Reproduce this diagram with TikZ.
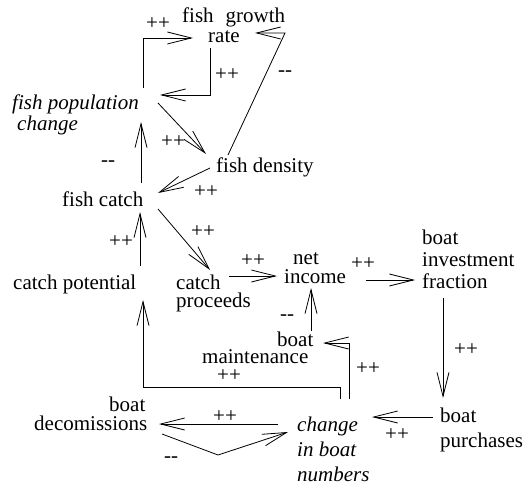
\documentclass[tikz,border=0pt]{standalone}
\usepackage{fontspec}
\setmainfont{Liberation Serif}
\usetikzlibrary{arrows.meta,calc}
\newcommand\mlines[2]{\begin{tabular}[t]{@{}#1@{}}#2\end{tabular}}
\newcommand\dashpair{-\kern0pt-}
\begin{document}
\begin{tikzpicture}[x=1pt,y=-1pt,
  txt/.style={anchor=base west,inner sep=0pt,font=\fontsize{21}{21}\selectfont},
  lbl/.style={anchor=base,inner sep=0pt,font=\fontsize{21}{21}\selectfont},
  conn/.style={line width=0.8pt,-{Straight Barb[length=24pt,width=12pt]}}]
\useasboundingbox (0,0) rectangle (526,486);
% nodes
\node[txt] (fgr) at (182,23) {\mlines{l}{fish\hspace{12pt}growth\\[-1pt]\hspace*{26pt}rate}};
\node[txt] (fpc) at (12,110) {\itshape\mlines{l}{fish population\\\hspace*{5pt}change}};
\node[txt] (fd) at (216,172) {fish density};
\node[txt] (fc) at (62,206) {fish catch};
\node[txt] (cp) at (13,289) {catch potential};
\node[txt] (cpr) at (176,289) {\mlines{l}{catch\\[-3pt]proceeds}};
\node[txt] (ni) at (284,264) {\mlines{l}{\hspace*{9pt}net\\[-2pt]income}};
\node[txt] (bif) at (422,244) {\mlines{l}{boat\\[1pt]investment\\[1pt]fraction}};
\node[txt] (bm) at (202,346) {\mlines{l}{\hspace*{75pt}boat\\[-4pt]maintenance}};
\node[txt] (bd) at (34,411) {\mlines{l}{\hspace*{75pt}boat\\[-2pt]decomissions}};
\node[txt] (cbn) at (297,431) {\itshape\mlines{l}{change\\[4pt]in boat\\[4pt]numbers}};
\node[txt] (bp) at (440,422) {\mlines{l}{boat\\[4pt]purchases}};
% connectors
\draw[conn] ($(fpc.base west)+(131,-22)$) |- ($(fgr.base west)+(11,15)$);
\draw[conn] ($(fgr.base west)+(28,25)$) |- ($(fpc.base west)+(148,-15)$);
\draw[conn] ($(fd.base west)+(12,-17)$) -- ($(fgr.base west)+(103,10)$) -- ($(fgr.base west)+(73,10)$);
\draw[conn] ($(fpc.base west)+(146,-7)$) -- ($(fd.base west)+(-10,-18)$);
\draw[conn] ($(fd.base west)+(-6,-4)$) -- ($(fc.base west)+(96,-13)$);
\draw[conn] ($(fc.base west)+(79,-23)$) -- ($(fpc.base west)+(129,12)$);
\draw[conn] ($(fc.base west)+(96,3)$) -- ($(cpr.base west)+(34,-19)$);
\draw[conn] ($(cp.base west)+(127,-23)$) -- ($(fc.base west)+(78,6)$);
\draw[conn] ($(cpr.base west)+(53,-13)$) -- ($(ni.base west)+(-7,12)$);
\draw[conn] ($(ni.base west)+(82,16)$) -- ($(bif.base west)+(-7,36)$);
\draw[conn] ($(bif.base west)+(21,54)$) -- ($(bp.base west)+(3,-24)$);
\draw[conn] ($(bp.base west)+(-7,-5)$) -- ($(cbn.base west)+(75,-14)$);
\draw[conn] ($(cbn.base west)+(-19,-7)$) -- ($(bd.base west)+(125,13)$);
\draw[conn] ($(bd.base west)+(128,23)$) -- ($(bd.base west)+(184,44)$) -- ($(cbn.base west)+(-9,1)$);
\draw[conn] ($(cbn.base west)+(52,-32)$) |- ($(bm.base west)+(121,-3)$);
\draw[conn] ($(cbn.base west)+(43,-32)$) -- ++(0,-12) -| ($(cp.base west)+(130,11)$);
\draw[conn] ($(bm.base west)+(109,-15)$) -- ($(ni.base west)+(27,24)$);
% labels
\node[lbl] (l1) at (158,30) {++};
\node[lbl] (l2) at (227,81) {++};
\node[lbl] (l3) at (285,77) {\dashpair};
\node[lbl] (l4) at (173,148) {++};
\node[lbl] (l5) at (206,197) {++};
\node[lbl] (l6) at (108,167) {\dashpair};
\node[lbl] (l7) at (203,237) {++};
\node[lbl] (l8) at (121,247) {++};
\node[lbl] (l9) at (253,266) {++};
\node[lbl] (l10) at (363,269) {++};
\node[lbl] (l11) at (466,355) {++};
\node[lbl] (l12) at (397,440) {++};
\node[lbl] (l13) at (225,422) {++};
\node[lbl] (l14) at (171,462) {\dashpair};
\node[lbl] (l15) at (368,374) {++};
\node[lbl] (l16) at (229,381) {++};
\node[lbl] (l17) at (287,320) {\dashpair};
\end{tikzpicture}
\end{document}
